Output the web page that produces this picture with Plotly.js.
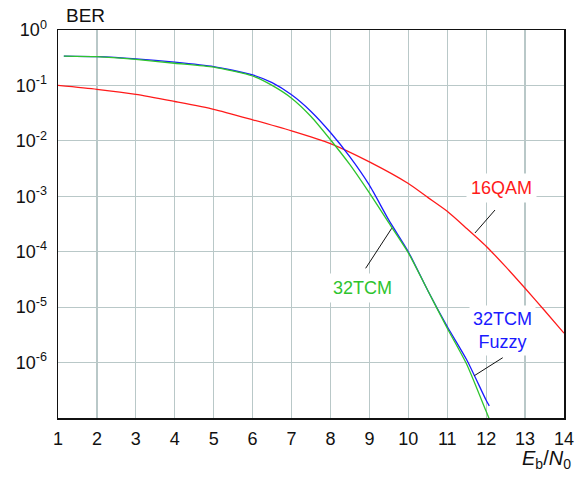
<!DOCTYPE html>
<html>
<head>
<meta charset="utf-8">
<script src="https://cdn.plot.ly/plotly-3.0.1.min.js"></script>
<style>html,body{margin:0;padding:0;background:#fff;}#chart{width:578px;height:477px;}</style>
</head>
<body>
<div id="chart"></div>
<script>
// Eb/N0 (dB) and BER (log10 values)
const qamX   = [1, 2, 3, 4, 5, 6, 7, 8, 9, 10, 10.5, 11, 11.5, 12, 12.5, 13, 13.5, 14];
const qamLog = [-1.0, -1.07, -1.16, -1.29, -1.43, -1.62, -1.82, -2.05, -2.38, -2.77, -3.02, -3.27, -3.58, -3.9, -4.27, -4.66, -5.06, -5.47];

const tcmX   = [1.15, 2, 3, 4, 5, 6, 6.5, 7, 7.5, 8, 8.5, 9, 9.5, 10, 10.5, 11, 11.5, 12, 12.1];
const tcmLog = [-0.47, -0.48, -0.53, -0.60, -0.67, -0.83, -1.0, -1.23, -1.56, -1.98, -2.43, -2.94, -3.48, -4.02, -4.7, -5.38, -6.03, -6.88, -7.05];

const fuzX   = [1.15, 2, 3, 4, 5, 6, 6.5, 7, 7.5, 8, 8.5, 9, 9.5, 10, 10.5, 11, 11.5, 12, 12.08];
const fuzLog = [-0.47, -0.48, -0.52, -0.58, -0.66, -0.81, -0.95, -1.17, -1.47, -1.85, -2.29, -2.8, -3.43, -4.0, -4.7, -5.35, -5.95, -6.68, -6.78];

const yTickVals = [1, 1e-1, 1e-2, 1e-3, 1e-4, 1e-5, 1e-6];
const yTickText = ['10<sup>0</sup>', '10<sup>-1</sup>', '10<sup>-2</sup>', '10<sup>-3</sup>', '10<sup>-4</sup>', '10<sup>-5</sup>', '10<sup>-6</sup>'];
const xTickVals = [1, 2, 3, 4, 5, 6, 7, 8, 9, 10, 11, 12, 13, 14];

const toVal = a => a.map(v => Math.pow(10, v));

const traces = [
  {x: qamX, y: toVal(qamLog), mode: 'lines', line: {color: '#ff1a1a', width: 1.3, shape: 'spline', smoothing: 0.6}, name: '16QAM'},
  {x: fuzX, y: toVal(fuzLog), mode: 'lines', line: {color: '#1a1aff', width: 1.3, shape: 'spline', smoothing: 0.6}, name: '32TCM Fuzzy'},
  {x: tcmX, y: toVal(tcmLog), mode: 'lines', line: {color: '#2ec42e', width: 1.3, shape: 'spline', smoothing: 0.6}, name: '32TCM'}
];

const F = 'Liberation Sans, Arial, sans-serif';
const layout = {
  width: 578, height: 477,
  margin: {l: 58, r: 14, t: 30, b: 59},
  paper_bgcolor: '#fff', plot_bgcolor: '#fff',
  showlegend: false,
  font: {family: F, size: 18, color: '#111'},
  xaxis: {
    range: [1, 14], tickvals: xTickVals, ticks: '', showgrid: true,
    gridcolor: '#b9c8c8', gridwidth: 1.2, zeroline: false,
    showline: true, linecolor: '#111', linewidth: 1.5, mirror: true,
    tickfont: {family: F, size: 18, color: '#111'}, ticklabelstandoff: 4
  },
  yaxis: {
    type: 'log', range: [-7, 0], tickvals: yTickVals, ticktext: yTickText, ticks: '',
    showgrid: true, gridcolor: '#b9c8c8', gridwidth: 1.2, zeroline: false,
    showline: true, linecolor: '#111', linewidth: 1.5, mirror: true,
    tickfont: {family: F, size: 18, color: '#111'}, ticklabelstandoff: 6
  },
  annotations: [
    {text: 'BER', xref: 'paper', yref: 'paper', x: 0.012, y: 1.005, xanchor: 'left', yanchor: 'bottom', showarrow: false, font: {family: F, size: 19, color: '#111'}},
    {text: '<i>E</i><sub>b</sub>/<i>N</i><sub>0</sub>', xref: 'paper', yref: 'paper', x: 1.018, y: -0.07, xanchor: 'right', yanchor: 'top', showarrow: false, font: {family: F, size: 20, color: '#111'}},
    {text: '16QAM', x: 12.40, y: -2.85, xref: 'x', yref: 'y', showarrow: false, bgcolor: '#fff', borderpad: 4, font: {family: F, size: 18, color: '#ff1a1a'}},
    {text: '32TCM', x: 8.83, y: -4.65, xref: 'x', yref: 'y', showarrow: false, bgcolor: '#fff', borderpad: 4, font: {family: F, size: 18, color: '#2ec42e'}},
    {text: '32TCM<br>Fuzzy', x: 12.43, y: -5.43, xref: 'x', yref: 'y', showarrow: false, bgcolor: '#fff', borderpad: 3, font: {family: F, size: 18, color: '#1a1aff'}}
  ],
  shapes: [
    {type: 'line', xref: 'paper', yref: 'paper', x0: 0.8636, y0: 0.536, x1: 0.824, y1: 0.4768, line: {color: '#111', width: 1}},
    {type: 'line', xref: 'paper', yref: 'paper', x0: 0.608, y0: 0.3858, x1: 0.6595, y1: 0.4889, line: {color: '#111', width: 1}},
    {type: 'line', xref: 'paper', yref: 'paper', x0: 0.8789, y0: 0.1554, x1: 0.8227, y1: 0.1090, line: {color: '#111', width: 1}}
  ]
};

Plotly.newPlot('chart', traces, layout, {displayModeBar: false, staticPlot: true});
</script>
</body>
</html>
